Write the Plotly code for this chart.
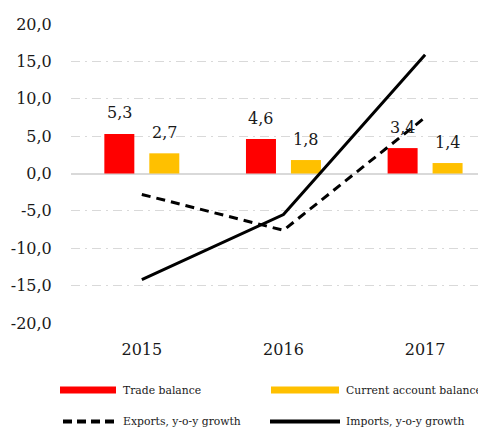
import plotly.graph_objects as go

years = ["2015", "2016", "2017"]
trade_balance = [5.3, 4.6, 3.4]
current_account = [2.7, 1.8, 1.4]
exports_growth = [-2.8, -7.6, 7.5]
imports_growth = [-14.2, -5.5, 15.9]
y_ticks = [-20, -15, -10, -5, 0, 5, 10, 15, 20]

FONT = "DejaVu Serif"
RED = "#ff0000"
GOLD = "#ffc000"
TXT = "#1a1a1a"

def fmt(v):
    return f"{v:.1f}".replace(".", ",")

y_tick_text = [fmt(v) for v in y_ticks]

fig = go.Figure()
fig.add_trace(go.Bar(x=years, y=trade_balance, name="Trade balance",
                     marker=dict(color=RED, line=dict(width=0)), showlegend=False))
fig.add_trace(go.Bar(x=years, y=current_account, name="Current account balance",
                     marker=dict(color=GOLD, line=dict(width=0)), showlegend=False))
fig.add_trace(go.Scatter(x=years, y=exports_growth, mode="lines", name="Exports, y-o-y growth",
                         line=dict(color="black", width=3, dash="9px,6px"), showlegend=False))
fig.add_trace(go.Scatter(x=years, y=imports_growth, mode="lines", name="Imports, y-o-y growth",
                         line=dict(color="black", width=3), showlegend=False))

annotations = []
for i, yr in enumerate(years):
    annotations.append(dict(x=i, y=trade_balance[i], xref="x", yref="y", text=fmt(trade_balance[i]),
                            showarrow=False, xshift=-22.5, yshift=21,
                            font=dict(family=FONT, size=16, color=TXT)))
    annotations.append(dict(x=i, y=current_account[i], xref="x", yref="y", text=fmt(current_account[i]),
                            showarrow=False, xshift=22.5, yshift=21,
                            font=dict(family=FONT, size=16, color=TXT)))

# page has an 8px body margin: the figure is drawn 8px right/down of the window corner.
# custom legend in paper coords (plot area 415px wide, 299px tall; window px -> paper)
def px_x(p):
    return (p - 71) / 415.0

def px_y(p):
    return (323 - p) / 299.0

shapes = [
    dict(type="line", xref="paper", yref="paper", x0=px_x(60), x1=px_x(116), y0=px_y(390), y1=px_y(390),
         line=dict(color=RED, width=7)),
    dict(type="line", xref="paper", yref="paper", x0=px_x(271), x1=px_x(339), y0=px_y(390), y1=px_y(390),
         line=dict(color=GOLD, width=7)),
    dict(type="line", xref="paper", yref="paper", x0=px_x(63), x1=px_x(116), y0=px_y(421.5), y1=px_y(421.5),
         line=dict(color="black", width=4, dash="9px,5px")),
    dict(type="line", xref="paper", yref="paper", x0=px_x(270), x1=px_x(340), y0=px_y(421.5), y1=px_y(421.5),
         line=dict(color="black", width=4)),
]
legend_items = [("Trade balance", 121, 390), ("Current account balance", 344, 390),
                ("Exports, y-o-y growth", 121, 421.5), ("Imports, y-o-y growth", 344, 421.5)]
for text, lx, ly in legend_items:
    annotations.append(dict(x=px_x(lx), y=px_y(ly), xref="paper", yref="paper", text=text,
                            showarrow=False, xanchor="left", yanchor="middle",
                            font=dict(family=FONT, size=10.8, color=TXT)))

fig.update_layout(
    width=478, height=419,
    margin=dict(l=63, r=0, t=16, b=104),
    paper_bgcolor="white", plot_bgcolor="white",
    barmode="group", bargap=0.365, bargroupgap=0.333,
    font=dict(family=FONT, size=16, color=TXT),
    shapes=shapes,
    annotations=annotations,
    showlegend=False,
)
fig.update_xaxes(type="category", range=[-0.5, 2.43], showgrid=False, showline=False, zeroline=False,
                 automargin=False,
                 ticks="outside", ticklen=12, tickcolor="rgba(0,0,0,0)",
                 tickfont=dict(family=FONT, size=16, color=TXT), fixedrange=True)
fig.update_yaxes(range=[-20, 20], tickmode="array", tickvals=y_ticks, ticktext=y_tick_text,
                 automargin=False,
                 showgrid=True, gridcolor="#d9d9d9", gridwidth=1, griddash="9px,5px,2px,5px",
                 zeroline=True, zerolinecolor="#d9d9d9", zerolinewidth=2,
                 showline=False, ticks="outside", ticklen=15, tickcolor="rgba(0,0,0,0)",
                 tickfont=dict(family=FONT, size=16, color=TXT), fixedrange=True)

fig.write_html("out.html")
